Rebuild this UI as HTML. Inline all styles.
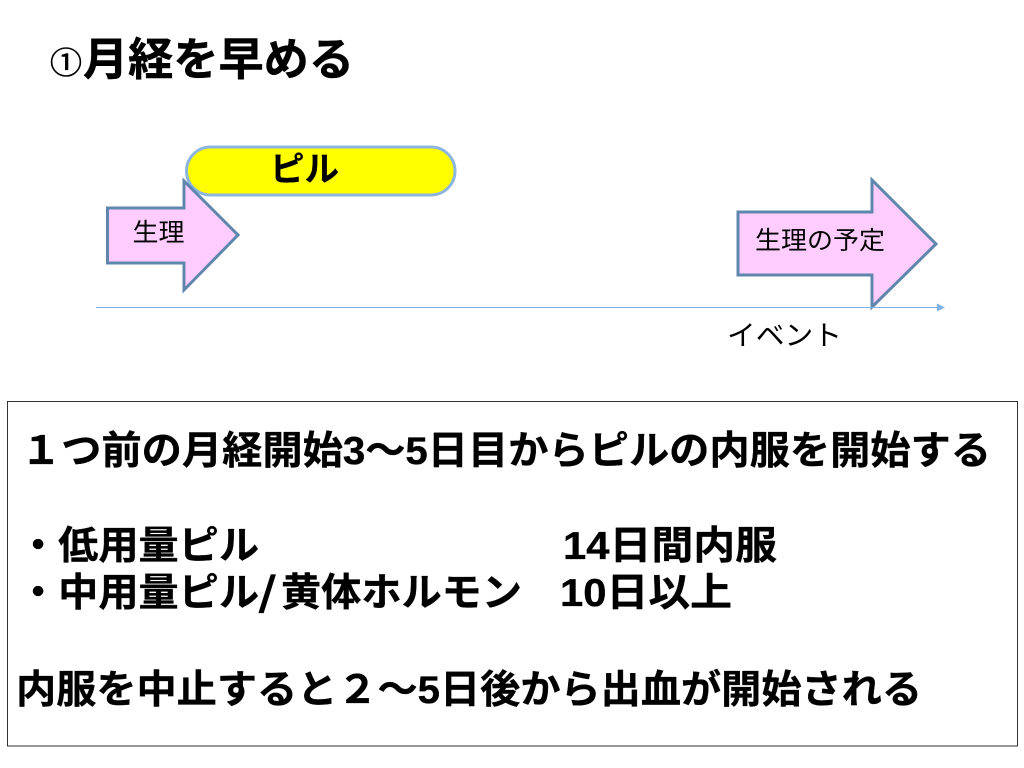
<!DOCTYPE html>
<html lang="ja">
<head>
<meta charset="utf-8">
<style>
html,body{margin:0;padding:0;background:#fff;width:1024px;height:768px;overflow:hidden}
svg{display:block}
text{font-family:"Liberation Sans","Noto Sans CJK JP",sans-serif;fill:#000}
.b{font-weight:700;font-size:39px;stroke:#000;stroke-width:.35px}
.t{font-size:25px}
</style>
</head>
<body>
<svg width="1024" height="768" viewBox="0 0 1024 768">
<rect width="1024" height="768" fill="#fff"/>
<text x="50" y="74" font-size="31" stroke="#000" stroke-width="0.6" style="font-family:'Noto Sans CJK JP',sans-serif" textLength="32" lengthAdjust="spacingAndGlyphs">①</text>
<text x="83" y="75" font-size="45" font-weight="700" stroke="#000" stroke-width="0.5" style="font-family:'Noto Sans CJK JP',sans-serif" textLength="271" lengthAdjust="spacingAndGlyphs">月経を早める</text>

<rect x="186.500" y="147" width="268.500" height="48" rx="24" ry="24" fill="#ffff00" stroke="#8cb6e0" stroke-width="3"/>
<text x="270" y="181" font-size="34" font-weight="700" stroke="#000" stroke-width="0.3" textLength="69" lengthAdjust="spacingAndGlyphs">ピル</text>

<polygon points="107.500,208 184,208 184,181 238,235 184,290 184,263 107.500,263" fill="#ffccff" stroke="#5f87ae" stroke-width="3"/>
<text x="132.500" y="241" class="t" textLength="52" lengthAdjust="spacingAndGlyphs">生理</text>

<polygon points="738,212 872,212 872,180 936,244 872,307 872,275 738,275" fill="#ffccff" stroke="#5f87ae" stroke-width="3"/>
<text x="755" y="249" class="t" textLength="130" lengthAdjust="spacingAndGlyphs">生理の予定</text>

<line x1="96" y1="307.500" x2="938" y2="307.500" stroke="#7fb2e5" stroke-width="1"/>
<polygon points="937,303.500 945,307.500 937,311.500" fill="#7fb2e5"/>
<text x="727" y="345" font-size="28" textLength="115" lengthAdjust="spacingAndGlyphs">イベント</text>

<rect x="7.500" y="401.500" width="1010" height="344.500" fill="#fff" stroke="#333" stroke-width="1"/>

<text x="21" y="464" class="b" textLength="970" lengthAdjust="spacingAndGlyphs">１つ前の月経開始3～5日目からピルの内服を開始する</text>
<text x="18" y="559" class="b" textLength="241" lengthAdjust="spacingAndGlyphs">・低用量ピル</text>
<text x="563" y="559" class="b" textLength="214" lengthAdjust="spacingAndGlyphs">14日間内服</text>
<text x="18" y="606" class="b" textLength="241" lengthAdjust="spacingAndGlyphs">・中用量ピル</text>
<text x="258" y="606" class="b" style="font-family:'Noto Sans CJK JP',sans-serif" textLength="19" lengthAdjust="spacingAndGlyphs">/</text>
<text x="281" y="606" class="b" textLength="241" lengthAdjust="spacingAndGlyphs">黄体ホルモン</text>
<text x="560" y="606" class="b" textLength="172" lengthAdjust="spacingAndGlyphs">10日以上</text>
<text x="16" y="703" class="b" textLength="906" lengthAdjust="spacingAndGlyphs">内服を中止すると２～5日後から出血が開始される</text>
</svg>
</body>
</html>
